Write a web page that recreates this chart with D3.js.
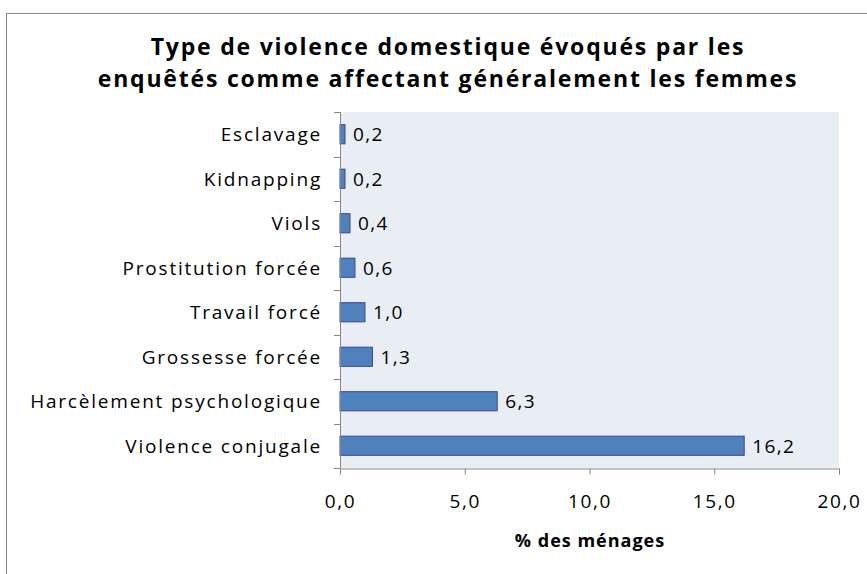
<!DOCTYPE html>
<html>
<head>
<meta charset="utf-8">
<script src="https://cdn.jsdelivr.net/npm/d3@7"></script>
<style>
  body { margin: 0; background: #fff; }
  text { font-family: "Open Sans", sans-serif; fill: #000; }
</style>
</head>
<body>
<div id="chart"></div>
<script>
// data
const categories = ["Esclavage", "Kidnapping", "Viols", "Prostitution forcée",
  "Travail forcé", "Grossesse forcée", "Harcèlement psychologique", "Violence conjugale"];
const values = [0.2, 0.2, 0.4, 0.6, 1.0, 1.3, 6.3, 16.2];
const xTicks = [0, 5, 10, 15, 20];
const titleLines = ["Type de violence domestique évoqués par les",
  "enquêtés comme affectant généralement les femmes"];
const xLabel = "% des ménages";

const width = 867, height = 574;
const plot = { left: 340, right: 839, top: 112, bottom: 468 };

const fmt = v => d3.format(".1f")(v).replace(".", ",");

let svg = d3.select("#chart").append("svg")
  .attr("width", width)
  .attr("height", height);

// outer chart frame
svg.append("rect")
  .attr("x", 6.5).attr("y", 13.5)
  .attr("width", 870).attr("height", 600)
  .attr("fill", "none")
  .attr("stroke", "#878787");

// title
svg.append("g").selectAll("text")
  .data(titleLines)
  .enter().append("text")
  .attr("x", 448)
  .attr("y", (d, i) => 55 + i * 32)
  .attr("text-anchor", "middle")
  .style("font-weight", "bold")
  .style("font-size", "23px")
  .style("letter-spacing", "1.8px")
  .text(d => d);

let x = d3.scaleLinear().domain([0, 20]).range([plot.left, plot.right]);
let y = d3.scaleBand().domain(categories).range([plot.top, plot.bottom]).paddingInner(0.57).paddingOuter(0.285);

// plot area background
svg.append("rect")
  .attr("x", plot.left).attr("y", plot.top)
  .attr("width", plot.right - plot.left).attr("height", plot.bottom - plot.top)
  .attr("fill", "#E9EDF4");

// bars
svg.append("g").selectAll("rect")
  .data(values)
  .enter().append("rect")
  .attr("x", x(0))
  .attr("y", (d, i) => y(categories[i]))
  .attr("width", d => x(d) - x(0))
  .attr("height", y.bandwidth())
  .attr("fill", "#4F81BD")
  .attr("stroke", "#3646A0")
  .attr("stroke-width", 1);

// value labels
svg.append("g").selectAll("text")
  .data(values)
  .enter().append("text")
  .attr("x", d => x(d) + 8)
  .attr("y", (d, i) => y(categories[i]) + y.bandwidth() / 2)
  .attr("dy", "0.36em")
  .style("font-size", "19px")
  .style("letter-spacing", "1.4px")
  .text(d => fmt(d));

// y axis: line + ticks at band boundaries
const gy = svg.append("g").attr("stroke", "#868686");
gy.append("line")
  .attr("x1", plot.left + 0.5).attr("x2", plot.left + 0.5)
  .attr("y1", plot.top).attr("y2", plot.bottom);
const step = y.step();
gy.selectAll("line.tick")
  .data(d3.range(categories.length + 1))
  .enter().append("line")
  .attr("class", "tick")
  .attr("x1", plot.left - 6).attr("x2", plot.left)
  .attr("y1", i => Math.round(plot.top + i * step) + 0.5)
  .attr("y2", i => Math.round(plot.top + i * step) + 0.5);

// category labels
svg.append("g").selectAll("text")
  .data(categories)
  .enter().append("text")
  .attr("x", 322)
  .attr("y", d => y(d) + y.bandwidth() / 2)
  .attr("dy", "0.36em")
  .attr("text-anchor", "end")
  .style("font-size", "19px")
  .style("letter-spacing", "1.8px")
  .text(d => d);

// x axis
let gx = svg.append("g")
  .attr("transform", "translate(0," + (plot.bottom + 0.5) + ")")
  .call(d3.axisBottom(x).tickValues(xTicks).tickSize(6).tickPadding(20).tickFormat(fmt));
gx.select(".domain").attr("stroke", "#868686");
gx.selectAll(".tick line").attr("stroke", "#868686");
gx.selectAll(".tick text")
  .style("font-family", "'Open Sans', sans-serif")
  .style("font-size", "19px")
  .style("letter-spacing", "1.6px")
  .attr("fill", "#000");

svg.append("text")
  .attr("x", 590)
  .attr("y", 547)
  .attr("text-anchor", "middle")
  .style("font-weight", "bold")
  .style("font-size", "18px")
  .style("letter-spacing", "1px")
  .text(xLabel);
</script>
</body>
</html>
